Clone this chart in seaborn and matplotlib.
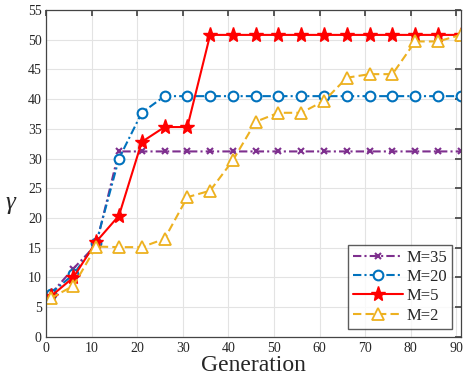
import numpy as np
import pandas as pd
import matplotlib
matplotlib.use("Agg")
import matplotlib.pyplot as plt
import seaborn as sns

generation = [1, 6, 11, 16, 21, 26, 31, 36, 41, 46, 51, 56, 61, 66, 71, 76, 81, 86, 91]
m35 = [7.2, 11.5, 15.5, 31.2, 31.2, 31.2, 31.2, 31.2, 31.2, 31.2, 31.2, 31.2, 31.2, 31.2, 31.2, 31.2, 31.2, 31.2, 31.2]
m20 = [7.3, 10.5, 15.8, 30.0, 37.7, 40.5, 40.5, 40.5, 40.5, 40.5, 40.5, 40.5, 40.5, 40.5, 40.5, 40.5, 40.5, 40.5, 40.5]
m5 = [6.8, 10.0, 16.0, 20.4, 32.8, 35.3, 35.3, 50.8, 50.8, 50.8, 50.8, 50.8, 50.8, 50.8, 50.8, 50.8, 50.8, 50.8, 50.8]
m2 = [6.5, 8.6, 15.2, 15.1, 15.1, 16.5, 23.5, 24.6, 29.7, 36.2, 37.7, 37.7, 39.7, 43.6, 44.2, 44.2, 49.7, 49.7, 50.8]
labels = ["M=35", "M=20", "M=5", "M=2"]
xticks = list(range(0, 91, 10))
yticks = list(range(0, 56, 5))

sns.set_theme(style="whitegrid")
plt.rcParams["font.family"] = ["Liberation Serif", "DejaVu Serif"]
plt.rcParams["mathtext.fontset"] = "custom"
plt.rcParams["mathtext.it"] = "Liberation Serif:italic"

fig = plt.figure(figsize=(4.65, 3.82), dpi=100)
ax = fig.add_axes([0.099, 0.118, 0.892, 0.856])

styles = [
    dict(color="#7E2F8E", ls=(0, (4, 1.5, 1, 1.5)), marker="x", ms=5, mew=1.5),
    dict(color="#0072BD", ls=(0, (4, 1.5, 1, 1.5)), marker="o", ms=7, mew=1.5, mfc="white"),
    dict(color="#FF0000", ls="-", marker="*", ms=11, mew=1.0),
    dict(color="#EDB120", ls=(0, (4, 2)), marker="^", ms=8, mew=1.3, mfc="white"),
]
series = [m35, m20, m5, m2]
for lab, ys, st in zip(labels, series, styles):
    df = pd.DataFrame({"Generation": generation, "y": ys})
    sns.lineplot(data=df, x="Generation", y="y", ax=ax, label=lab, color=st["color"],
                 linestyle=st["ls"], marker=st["marker"], markersize=st["ms"],
                 markeredgewidth=st["mew"], markeredgecolor=st["color"],
                 markerfacecolor=st.get("mfc", st["color"]), linewidth=1.5)

ax.set_xlim(0, 91)
ax.set_ylim(0, 55)
ax.set_xticks(xticks)
ax.set_yticks(yticks)
ax.tick_params(axis="both", labelsize=10, direction="in", length=4, color="#444444",
               top=True, right=True)
ax.tick_params(axis="x", pad=4)
ax.tick_params(axis="y", pad=3)
ax.grid(True, color="#e3e3e3", linewidth=0.8)
for s in ax.spines.values():
    s.set_color("#444444")
    s.set_linewidth(0.9)
    s.set_visible(True)
ax.set_facecolor("white")
ax.set_xlabel("Generation", fontsize=17, labelpad=0)
ax.set_ylabel(r"$\gamma$", fontsize=18, rotation=0)
ax.yaxis.set_label_coords(-0.085, 0.37)
leg = ax.legend(loc="lower right", fontsize=12, frameon=True, fancybox=False,
                edgecolor="#333333", handlelength=3.0, borderpad=0.3, labelspacing=0.2,
                handletextpad=0.2, borderaxespad=0.5)
leg.get_frame().set_linewidth(1.0)
fig.savefig("out.png", dpi=100)
